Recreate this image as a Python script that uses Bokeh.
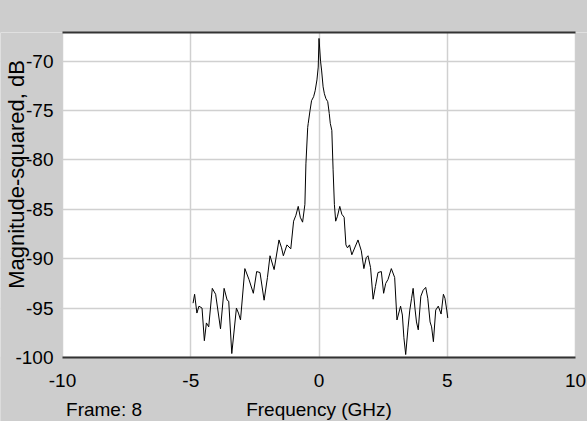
import math
from bokeh.plotting import figure
from bokeh.models import (FixedTicker, LinearAxis, Label, BoxAnnotation,
                          GlobalInlineStyleSheet)
from bokeh.core.properties import value
from bokeh.embed import file_html
from bokeh.resources import INLINE

# ---- data ----
freq_ghz = [-4.91, -4.85, -4.76, -4.68, -4.56, -4.47, -4.39, -4.30, -4.16, -4.03,
            -3.84, -3.70, -3.58, -3.52, -3.40, -3.22, -3.14, -3.06, -2.89, -2.73,
            -2.56, -2.43, -2.30, -2.14, -2.01, -1.91, -1.75, -1.56, -1.46, -1.39,
            -1.25, -1.10, -0.99, -0.90, -0.81, -0.73, -0.64, -0.55, -0.51, -0.44,
            -0.42, -0.35, -0.29, -0.21, -0.15, -0.08, -0.03, 0.00, 0.06, 0.10,
            0.16, 0.21, 0.27, 0.34, 0.40, 0.44, 0.50, 0.55, 0.60, 0.65,
            0.72, 0.81, 0.89, 0.98, 1.05, 1.11, 1.19, 1.28, 1.52, 1.65,
            1.75, 1.84, 1.91, 2.01, 2.11, 2.20, 2.30, 2.43, 2.52, 2.60,
            2.69, 2.82, 2.95, 3.04, 3.18, 3.25, 3.31, 3.38, 3.47, 3.54,
            3.61, 3.67, 3.74, 3.80, 3.87, 3.97, 4.06, 4.16, 4.24, 4.33,
            4.39, 4.46, 4.55, 4.65, 4.76, 4.85, 4.91, 4.98, 5.02]
mag_db = [-94.5, -93.6, -95.5, -94.8, -95.0, -98.3, -96.5, -96.9, -93.0, -93.6,
          -97.1, -93.0, -94.2, -94.3, -99.6, -95.0, -95.5, -96.2, -91.0, -92.1,
          -93.5, -91.3, -91.4, -94.2, -91.9, -89.7, -91.1, -88.1, -88.9, -89.7,
          -88.6, -89.0, -86.2, -85.6, -84.7, -85.8, -86.3, -84.5, -80.4, -76.7,
          -76.3, -75.0, -74.0, -73.6, -73.0, -71.9, -70.6, -67.7, -70.0, -70.9,
          -72.6, -73.3, -73.8, -74.1, -75.3, -76.3, -77.0, -81.0, -84.5, -86.2,
          -85.7, -84.7, -85.5, -85.8, -88.6, -88.9, -88.6, -89.6, -88.1, -89.2,
          -91.0, -89.9, -89.7, -90.9, -94.1, -92.8, -91.4, -91.3, -93.5, -92.5,
          -92.1, -91.0, -91.9, -96.2, -94.8, -95.7, -98.0, -99.7, -97.0, -95.2,
          -94.0, -93.0, -95.0, -96.4, -97.2, -93.8, -93.2, -92.9, -94.0, -96.4,
          -96.9, -98.4, -95.2, -94.8, -95.6, -93.6, -94.0, -95.2, -96.0]

x_ticks = [-10, -5, 0, 5, 10]
y_ticks = [-100, -95, -90, -85, -80, -75, -70]
x_tick_labels = ["-10", "-5", "0", "5", "10"]
y_tick_labels = ["-100", "-95", "-90", "-85", "-80", "-75", "-70"]
x_title = "Frequency (GHz)"
y_title = "Magnitude-squared, dB"
frame_text = "Frame: 8"
frame_text_pos = -8.38   # horizontal place of the "Frame: 8" note (axis units)
y_top = -67.1            # value at the top edge of the plot area

GRAY = "#cdcdcd"
FONT = "Liberation Sans, Arial, sans-serif"
FSIZE = "19px"

# layout (px): white plot area x 62..575, y 32..357 in a 587x421 canvas;
# the gray strips around it are part of the frame so texts there are drawn
W, H = 587, 421
LEFT_PX, RIGHT_PX, TOP_PX, BOTTOM_PX = 62, 12, 32, 64
PLOT_W, PLOT_H = W - LEFT_PX - RIGHT_PX, H - TOP_PX - BOTTOM_PX
x_lo, x_hi = x_ticks[0], x_ticks[-1]
y_lo = y_ticks[0]
ux = (x_hi - x_lo) / PLOT_W
uy = (y_top - y_lo) / PLOT_H

p = figure(width=W, height=H,
           x_range=(x_lo - LEFT_PX * ux, x_hi + RIGHT_PX * ux),
           y_range=(y_lo - BOTTOM_PX * uy, y_top),
           output_backend="svg", toolbar_location=None,
           min_border_left=0, min_border_right=0, min_border_top=TOP_PX,
           min_border_bottom=0)
p.stylesheets = [GlobalInlineStyleSheet(css="body { background: %s; }" % GRAY)]
p.background_fill_color = "white"
p.border_fill_color = GRAY
p.outline_line_color = None
p.xaxis.visible = False
p.yaxis.visible = False

# gray strips left, right and below the plot area
p.add_layout(BoxAnnotation(right=x_lo, fill_color=GRAY, fill_alpha=1.0,
                           line_color=None, level="underlay"))
p.add_layout(BoxAnnotation(left=x_hi, fill_color=GRAY, fill_alpha=1.0,
                           line_color=None, level="underlay"))
p.add_layout(BoxAnnotation(top=y_lo, fill_color=GRAY, fill_alpha=1.0,
                           line_color=None, level="underlay"))

# top border line
top = LinearAxis(ticker=FixedTicker(ticks=[]), bounds=(x_lo, x_hi),
                 axis_line_color="#333333", axis_line_width=2,
                 major_tick_out=0, major_tick_in=0, minor_tick_line_color=None,
                 major_label_text_font_size="0px", major_label_standoff=0)
p.add_layout(top, "above")

p.xgrid.ticker = FixedTicker(ticks=x_ticks)
p.ygrid.ticker = FixedTicker(ticks=y_ticks)
p.xgrid.bounds = (y_lo, y_top)
p.ygrid.bounds = (x_lo, x_hi)
p.grid.grid_line_color = "#d0d0d0"
p.grid.grid_line_width = 1.5

# bottom border line
p.segment(x0=[x_lo], y0=[y_lo], x1=[x_hi], y1=[y_lo],
          line_color="#333333", line_width=2)

p.line(freq_ghz, mag_db, line_color="black", line_width=1)

# tick labels
p.text(x=[x_lo] * len(y_ticks), y=y_ticks, text=y_tick_labels, x_offset=-9,
       text_align="right", text_baseline="middle", text_font=value(FONT),
       text_font_size=value(FSIZE), text_color="black")
p.text(x=x_ticks, y=[y_lo] * len(x_ticks), text=x_tick_labels, y_offset=23,
       text_align="center", text_baseline="middle", text_font=value(FONT),
       text_font_size=value(FSIZE), text_color="black")

# axis title and frame note below the tick labels
p.text(x=[0, frame_text_pos], y=[y_lo, y_lo], text=[x_title, frame_text],
       y_offset=52, text_align="center", text_baseline="middle",
       text_font=value(FONT), text_font_size=value(FSIZE), text_color="black")

# vertical axis title at the far left
p.add_layout(Label(x=x_lo, y=y_lo, x_offset=-46, y_offset=183,
                   text=y_title, angle=math.pi / 2, text_align="center",
                   text_baseline="alphabetic", text_font=FONT,
                   text_font_size="22px", text_color="black"))

open("out.html", "w").write(file_html(p, INLINE))
